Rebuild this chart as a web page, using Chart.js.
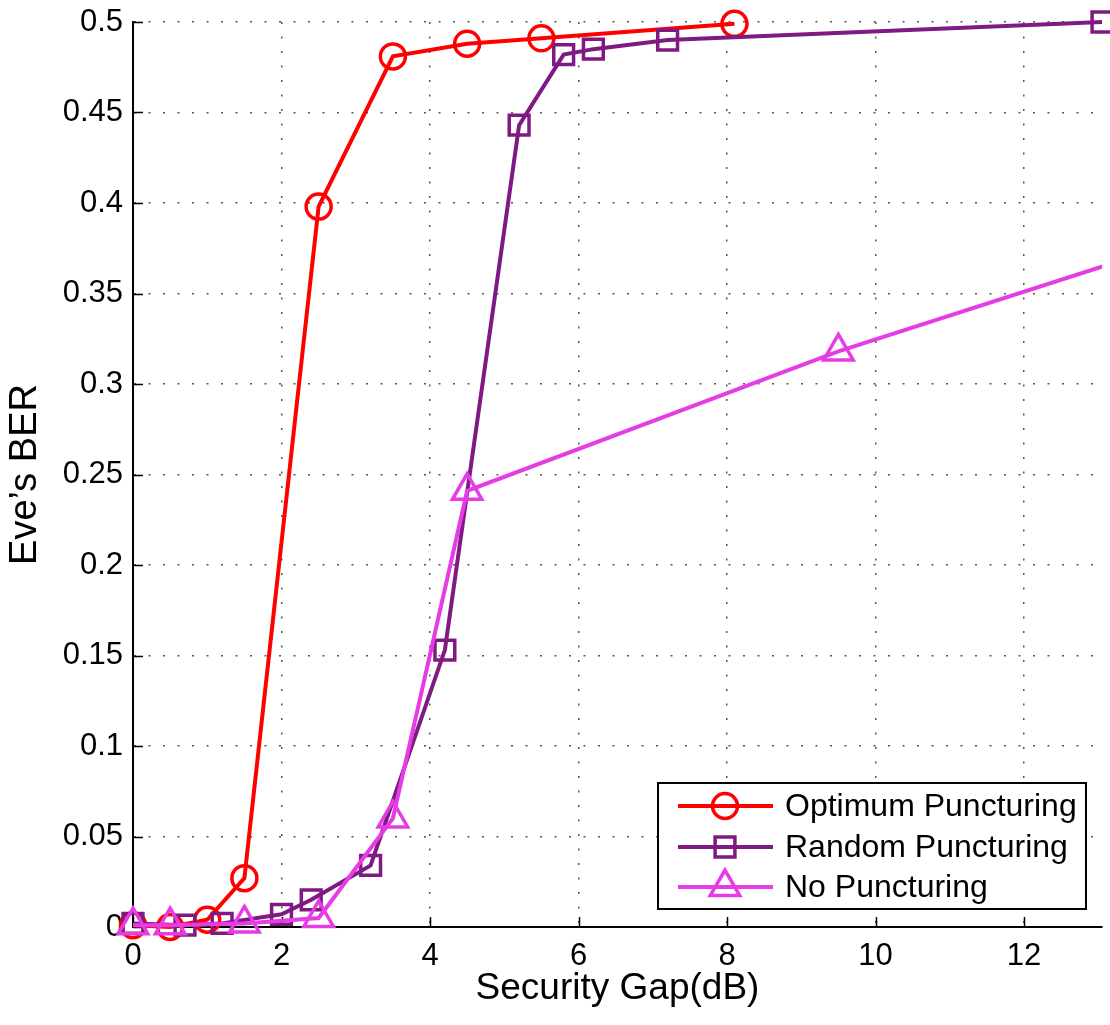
<!DOCTYPE html>
<html>
<head>
<meta charset="utf-8">
<script src="https://cdn.jsdelivr.net/npm/chart.js@4.4.0/dist/chart.umd.min.js"></script>
<style>
  html, body { margin: 0; padding: 0; background: #fff; }
  #wrap { width: 1110px; height: 1025px; }
</style>
</head>
<body>
<div id="wrap"><canvas id="berChart" width="1110" height="1025"></canvas></div>
<script>
// security gap (dB) vs Eve's BER
var optGap = [0, 0.5, 1.0, 1.5, 2.5, 3.5, 4.5, 5.5, 8.1];
var optBER = [0.001, 0, 0.004, 0.027, 0.398, 0.481, 0.488, 0.491, 0.499];

var randGap = [0, 0.7, 1.2, 2.0, 2.4, 3.2, 4.2, 5.2, 5.8, 6.2, 7.2, 13.05];
var randBER = [0.002, 0.001, 0.002, 0.007, 0.015, 0.034, 0.153, 0.443, 0.482, 0.485, 0.49, 0.5];

// last point lies past the right edge of the axes (line is cut there)
var noGap = [0, 0.5, 1.5, 2.5, 3.5, 4.5, 9.5, 14.5];
var noBER = [0.001, 0.001, 0.002, 0.005, 0.06, 0.241, 0.318, 0.384];

var seriesNames = ["Optimum Puncturing", "Random Puncturing", "No Puncturing"];
var xTickVals = [0, 2, 4, 6, 8, 10, 12];
var yTickVals = [0, 0.05, 0.1, 0.15, 0.2, 0.25, 0.3, 0.35, 0.4, 0.45, 0.5];

var FONT = '"Liberation Sans", Arial, Helvetica, sans-serif';
var colors = ['#ff0000', '#7f1a82', '#e63ce6'];
var styles = [
  { pointStyle: 'circle', radius: 12.5 },
  { pointStyle: 'rect', radius: 14 },
  { pointStyle: 'triangle', radius: 17 }
];

function toXY(xs, ys) {
  var out = [];
  for (var i = 0; i < xs.length; i++) out.push({ x: xs[i], y: ys[i] });
  return out;
}

function makeSet(idx, xs, ys, order, clip) {
  return {
    label: seriesNames[idx],
    data: toXY(xs, ys),
    borderColor: colors[idx],
    backgroundColor: 'rgba(0,0,0,0)',
    borderWidth: 4,
    pointStyle: styles[idx].pointStyle,
    pointRadius: styles[idx].radius,
    pointBorderWidth: 3.5,
    pointBorderColor: colors[idx],
    pointBackgroundColor: 'rgba(0,0,0,0)',
    tension: 0,
    fill: false,
    order: order,
    clip: clip
  };
}

// matlab style ticks pointing into the plot
var innerTicks = {
  id: 'innerTicks',
  beforeDatasetsDraw: function(chart) {
    var ctx = chart.ctx, a = chart.chartArea;
    var xs = chart.scales.x, ys = chart.scales.y;
    ctx.save();
    ctx.strokeStyle = '#000';
    ctx.lineWidth = 1.5;
    ctx.beginPath();
    xTickVals.forEach(function(v) {
      var px = Math.round(xs.getPixelForValue(v)) + 0.5;
      ctx.moveTo(px, a.bottom);
      ctx.lineTo(px, a.bottom - 10);
    });
    yTickVals.forEach(function(v) {
      var py = Math.round(ys.getPixelForValue(v)) + 0.5;
      ctx.moveTo(a.left, py);
      ctx.lineTo(a.left + 10, py);
    });
    ctx.stroke();
    ctx.restore();
  }
};

var boxLegend = {
  id: 'boxLegend',
  afterDraw: function(chart) {
    var ctx = chart.ctx, a = chart.chartArea;
    var w = 428, h = 126;
    var x = a.right - 16 - w, y = a.bottom - 18 - h;
    ctx.save();
    ctx.fillStyle = '#fff';
    ctx.fillRect(x, y, w, h);
    ctx.strokeStyle = '#000';
    ctx.lineWidth = 2;
    ctx.strokeRect(x, y, w, h);
    var rows = [23, 64, 104];
    for (var i = 0; i < 3; i++) {
      var ry = y + rows[i];
      ctx.strokeStyle = colors[i];
      ctx.lineWidth = 4;
      ctx.beginPath();
      ctx.moveTo(x + 20, ry);
      ctx.lineTo(x + 115, ry);
      ctx.stroke();
      ctx.lineWidth = 3.5;
      ctx.fillStyle = 'rgba(0,0,0,0)';
      Chart.helpers.drawPoint(ctx, {
        pointStyle: styles[i].pointStyle,
        radius: styles[i].radius,
        rotation: 0,
        borderWidth: 3.5
      }, x + 67, ry);
      ctx.fillStyle = '#000';
      ctx.font = '32px ' + FONT;
      ctx.textBaseline = 'middle';
      ctx.textAlign = 'left';
      ctx.fillText(seriesNames[i], x + 127, ry + 1);
    }
    ctx.restore();
  }
};

var chart = new Chart(document.getElementById('berChart'), {
  type: 'line',
  data: {
    datasets: [
      makeSet(0, optGap, optBER, 2, false),
      makeSet(1, randGap, randBER, 1, false),
      makeSet(2, noGap, noBER, 0, { left: false, top: false, right: 0, bottom: false })
    ]
  },
  options: {
    responsive: false,
    animation: false,
    layout: { autoPadding: false, padding: { top: 22, right: 8, left: 0, bottom: 0 } },
    plugins: {
      legend: { display: false },
      tooltip: { enabled: false }
    },
    scales: {
      x: {
        type: 'linear',
        min: 0,
        max: 13.05,
        afterBuildTicks: function(s) { s.ticks = xTickVals.map(function(v) { return { value: v }; }); },
        afterFit: function(s) { s.height = 98; s.paddingLeft = 0; s.paddingRight = 0; },
        ticks: {
          color: '#000',
          padding: 11,
          maxRotation: 0,
          font: { family: FONT, size: 31 },
          callback: function(v) { return String(v); }
        },
        grid: { color: '#555', lineWidth: 1.5, drawTicks: false },
        border: { display: true, color: '#000', width: 2, dash: [2, 12.5] },
        title: {
          display: true,
          text: 'Security Gap(dB)',
          color: '#000',
          font: { family: FONT, size: 37 },
          padding: { top: 0, bottom: 14 }
        }
      },
      y: {
        type: 'linear',
        min: 0,
        max: 0.5,
        afterBuildTicks: function(s) { s.ticks = yTickVals.map(function(v) { return { value: v }; }); },
        afterFit: function(s) { s.width = 133; s.paddingTop = 0; s.paddingBottom = 0; },
        ticks: {
          color: '#000',
          padding: 10,
          font: { family: FONT, size: 31 },
          callback: function(v) { return String(Number(v.toFixed(2))); }
        },
        grid: { color: '#555', lineWidth: 1.5, drawTicks: false },
        border: { display: true, color: '#000', width: 2, dash: [2, 12.5] },
        title: {
          display: true,
          text: 'Eve\u2019s BER',
          color: '#000',
          font: { family: FONT, size: 38 },
          padding: { top: 3, bottom: 0 }
        }
      }
    }
  },
  plugins: [innerTicks, boxLegend]
});
</script>
</body>
</html>
